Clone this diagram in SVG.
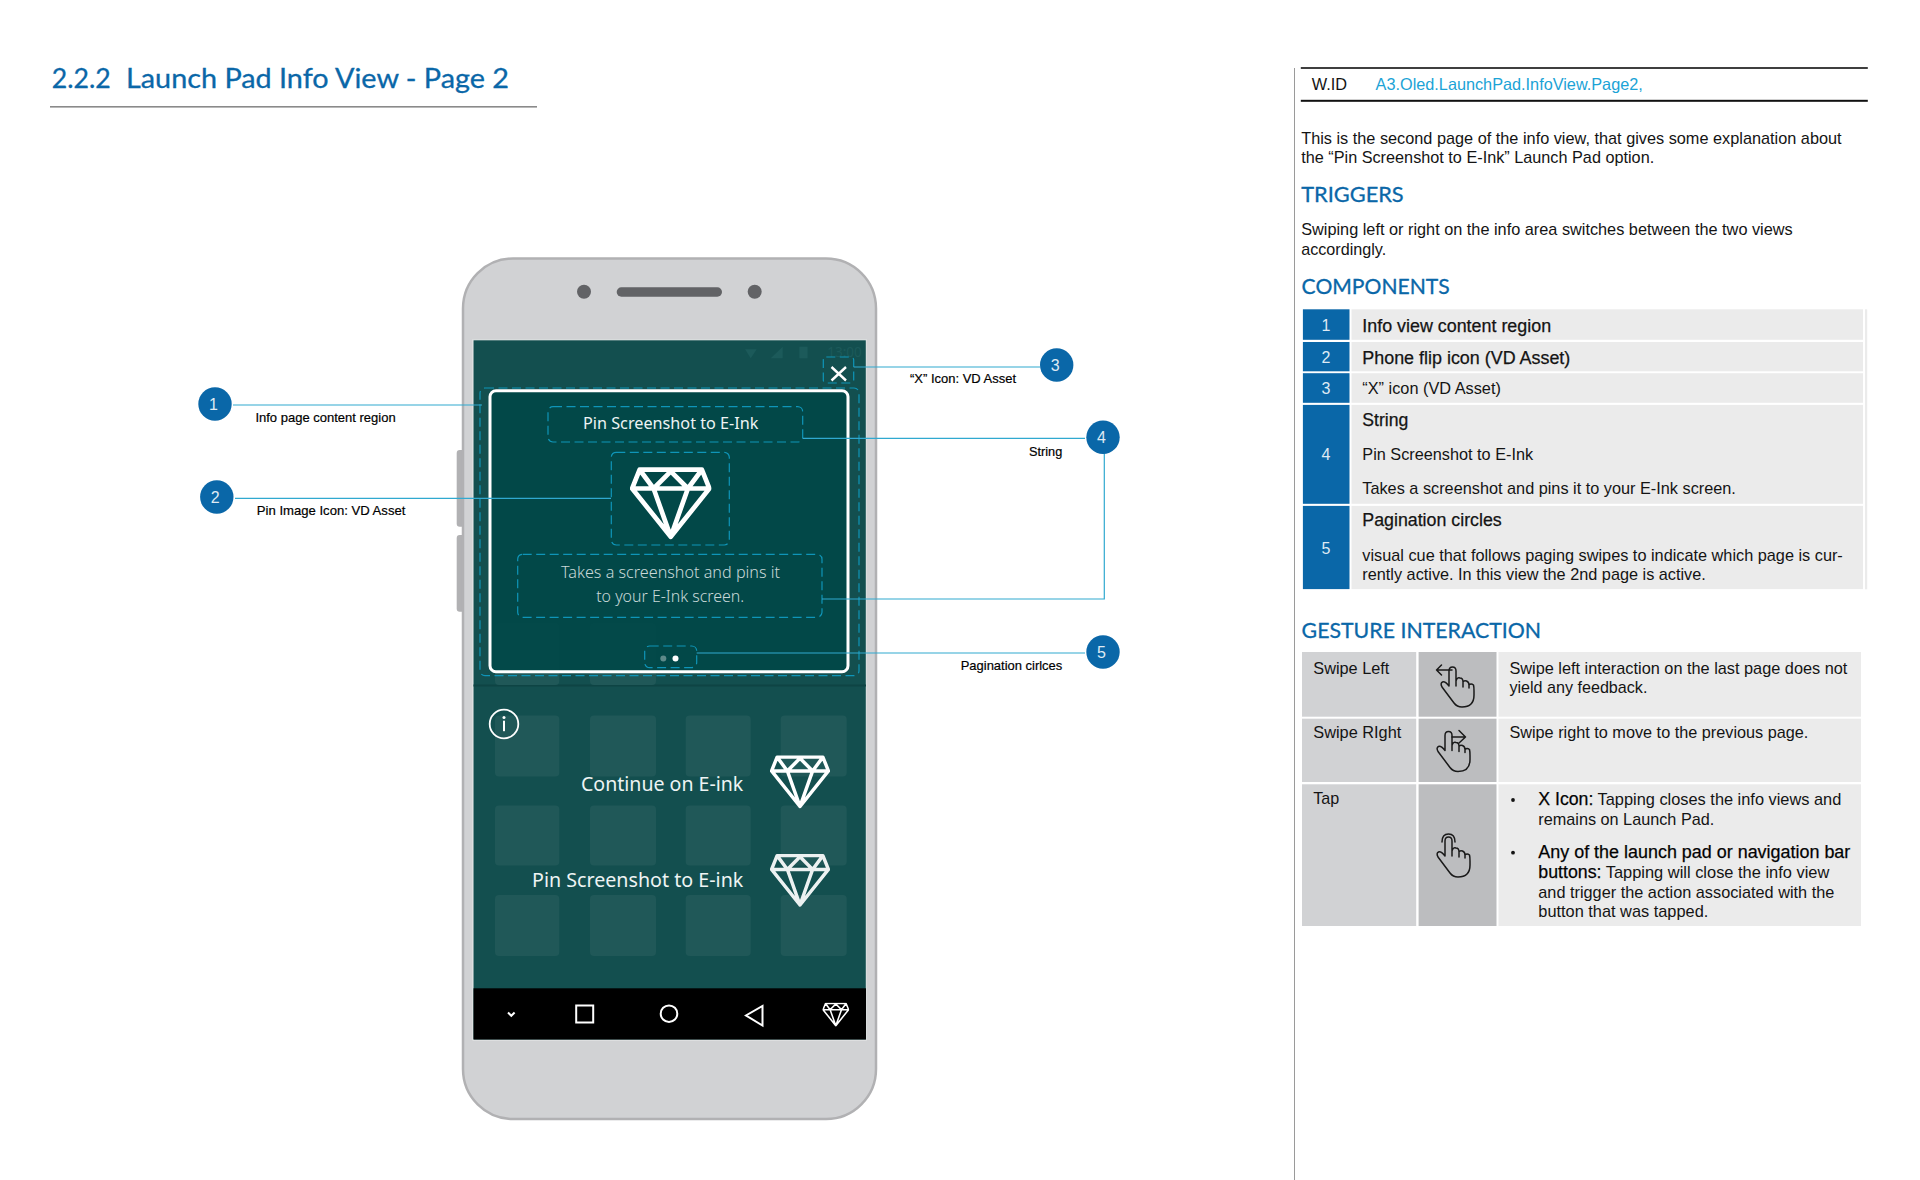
<svg xmlns="http://www.w3.org/2000/svg" xmlns:xlink="http://www.w3.org/1999/xlink" width="1920" height="1180" viewBox="0 0 1920 1180">
<style>
text{font-family:"Liberation Sans",Arial,sans-serif;fill:#141414}
.h{font-family:Lato,"Open Sans",sans-serif;fill:#0a67a8;stroke:#0a67a8;stroke-width:.3}
.p{font-size:16.2px}
.lg{font-size:17.5px;stroke:#141414;stroke-width:.25}
.lb{font-size:13.3px;fill:#000;stroke:#000;stroke-width:.2}
.n{font-size:16px;fill:#dfeaf4;text-anchor:middle}
.s{font-family:"Noto Sans","Open Sans",sans-serif;fill:#eef4f4}
.d{fill:none;stroke:#0f95b8;stroke-width:1.2;stroke-dasharray:9 4.5}
.c{fill:none;stroke:#30a9d0;stroke-width:1.2}
.num{fill:#0a67a8}
.cell{fill:#ebebeb}
.tile{fill:#205858}
.b{fill:#0a67a8}
.hand{fill:none;stroke:#1a1a1a;stroke-width:1.5;stroke-linecap:round;stroke-linejoin:round}
.nav{fill:none;stroke:#fff;stroke-width:2}
</style>
<defs>
<symbol id="gem" viewBox="2 1 76 68">
<path d="M11 3.5H69L76 21L40 66L4 21ZM4 21H76M11 3.5L24 21L40 5L56 21L69 3.5M24 21L40 66L56 21" fill="none" stroke="#fff" stroke-width="4.4" stroke-linejoin="round"/>
</symbol>
<symbol id="hand" viewBox="0 0 60 60">
<path class="hand" d="M21 29V14Q21 10 24.5 10Q28 10 28 14V29M28 24Q29 20 32 21Q35 21 35 25V30M35 25Q36 23 38.5 24Q41 25 41 28V31M41 28Q43 26 45.5 28Q46 30 46 34V38Q46 50 34 50Q29 50 26 46L14 30Q12 26 14.5 25Q17 24 21 29"/>
</symbol>
</defs>
<rect width="1920" height="1180" fill="#fff"/>

<g id="title">
<text class="h" x="51.8" y="88.3" font-size="27" textLength="59" lengthAdjust="spacingAndGlyphs">2.2.2</text>
<text class="h" x="126" y="88.3" font-size="27" textLength="383" lengthAdjust="spacingAndGlyphs">Launch Pad Info View - Page 2</text>
<rect x="50" y="106" width="487" height="1.6" fill="#8a8a8a"/>
</g>

<g id="phone">
<rect x="456.7" y="450" width="8" height="76.7" rx="3" fill="#b1b1b3"/>
<rect x="456.7" y="535" width="8" height="76.7" rx="3" fill="#b1b1b3"/>
<rect x="463" y="258.500" width="413" height="860.500" rx="50" fill="#d1d2d4" stroke="#b1b1b3" stroke-width="2.500"/>
<circle cx="584" cy="291.700" r="7" fill="#626366"/>
<circle cx="754.700" cy="291.700" r="7" fill="#626366"/>
<rect x="616.700" y="287.300" width="105.300" height="9.400" rx="4.700" fill="#626366"/>
<rect x="473" y="339.800" width="393.300" height="700.200" fill="#134f4f" stroke="#ececec" stroke-width="1"/>
<rect x="473.500" y="684.500" width="392.500" height="2" fill="#0e4444"/>
<path d="M745 349.300H756.700L750.700 358.300Z" fill="#1c5a5a"/>
<path d="M770.700 358.300L782.700 346.700V358.300Z" fill="#1c5a5a"/>
<rect x="799.300" y="346.700" width="8.300" height="11.600" fill="#1c5a5a"/>
<text x="827.300" y="356.700" font-size="15" textLength="34.400" lengthAdjust="spacingAndGlyphs" style="font-family:'Noto Sans',sans-serif;fill:#1c5a5a">13:00</text>
</g>

<g id="launch-grid">
<rect class="tile" x="495" y="623" width="64.300" height="62" rx="4"/><rect class="tile" x="590" y="623" width="66" height="62" rx="4"/>
<rect class="tile" x="495" y="715.500" width="64.300" height="61" rx="4"/><rect class="tile" x="590" y="715.500" width="66" height="61" rx="4"/><rect class="tile" x="685.700" y="715.500" width="65" height="61" rx="4"/><rect class="tile" x="780.700" y="715.500" width="66" height="61" rx="4"/>
<rect class="tile" x="495" y="805.500" width="64.300" height="60" rx="4"/><rect class="tile" x="590" y="805.500" width="66" height="60" rx="4"/><rect class="tile" x="685.700" y="805.500" width="65" height="60" rx="4"/><rect class="tile" x="780.700" y="805.500" width="66" height="60" rx="4"/>
<rect class="tile" x="495" y="895" width="64.300" height="61" rx="4"/><rect class="tile" x="590" y="895" width="66" height="61" rx="4"/><rect class="tile" x="685.700" y="895" width="65" height="61" rx="4"/><rect class="tile" x="780.700" y="895" width="66" height="61" rx="4"/>
</g>

<g id="launch-options">
<circle cx="504" cy="724" r="14.300" fill="none" stroke="#fff" stroke-width="1.800"/>
<circle cx="504" cy="717.500" r="1.500" fill="#fff"/>
<rect x="503" y="720.700" width="2" height="10.500" fill="#fff"/>
<text class="s" x="581" y="790.500" font-size="20" textLength="162.300" lengthAdjust="spacingAndGlyphs">Continue on E-ink</text>
<use xlink:href="#gem" href="#gem" x="770" y="755" width="60" height="54"/>
<text class="s" x="532" y="886.500" font-size="20" textLength="211.300" lengthAdjust="spacingAndGlyphs">Pin Screenshot to E-ink</text>
<use xlink:href="#gem" href="#gem" x="770" y="853.500" width="60" height="54" opacity=".92"/>
</g>

<g id="nav-bar">
<rect x="473.500" y="988.300" width="392.500" height="51.200" fill="#000"/>
<path d="M508 1012.500L511.300 1015.800L514.600 1012.500" class="nav"/>
<rect x="576.200" y="1005.500" width="17" height="17" class="nav"/>
<circle cx="669" cy="1013.700" r="8.300" class="nav"/>
<path d="M762.500 1006V1025.500L746 1015.500Z" class="nav"/>
<use xlink:href="#gem" href="#gem" x="822.300" y="1002.500" width="27" height="24.300"/>
</g>

<g id="info-card">
<rect x="490" y="390.700" width="358" height="281" rx="6" fill="#024848" fill-opacity=".97" stroke="#fff" stroke-width="3"/>
<text class="s" x="583" y="429.300" font-size="17" textLength="175.500" lengthAdjust="spacingAndGlyphs">Pin Screenshot to E-Ink</text>
<use xlink:href="#gem" href="#gem" x="630" y="467" width="81.500" height="73"/>
<text class="s" x="561" y="578" font-size="17" font-weight="300" textLength="219" lengthAdjust="spacingAndGlyphs" style="fill:#c8d8d8">Takes a screenshot and pins it</text>
<text class="s" x="596.200" y="601.700" font-size="17" font-weight="300" textLength="148" lengthAdjust="spacingAndGlyphs" style="fill:#c8d8d8">to your E-Ink screen.</text>
<circle cx="663.300" cy="658.500" r="3" fill="#5e8a8a"/>
<circle cx="675.500" cy="658.500" r="3" fill="#fff"/>
<path d="M831.500 367L846 380.500M846 367L831.500 380.500" stroke="#fff" stroke-width="2.400" fill="none"/>
</g>

<g id="callout-regions">
<rect class="d" x="480" y="388" width="379" height="287.700" rx="5"/>
<rect class="d" x="823.300" y="357" width="30.400" height="26" rx="3"/>
<rect class="d" x="548" y="406.700" width="254.700" height="35.300" rx="5"/>
<rect class="d" x="611.300" y="452.300" width="118" height="92.700" rx="5"/>
<rect class="d" x="517.700" y="554.300" width="304.300" height="63" rx="5"/>
<rect class="d" x="644.700" y="646" width="52" height="21.600" rx="5"/>
</g>

<g id="connectors">
<path class="c" d="M233 405H482"/>
<path class="c" d="M235 498.300H611"/>
<path class="c" d="M853.700 367H1040"/>
<path class="c" d="M802.700 438.300H1085"/>
<path class="c" d="M1104.300 453V599H822"/>
<path class="c" d="M696.700 653H1085"/>
</g>

<g id="callout-1"><circle class="b" cx="215" cy="404" r="16.700"/><text class="n" x="213.500" y="410">1</text><text class="lb" x="255.400" y="422" textLength="140.300" lengthAdjust="spacingAndGlyphs">Info page content region</text></g>
<g id="callout-2"><circle class="b" cx="216.800" cy="497" r="16.700"/><text class="n" x="215.300" y="503">2</text><text class="lb" x="256.800" y="515.300" textLength="148.600" lengthAdjust="spacingAndGlyphs">Pin Image Icon: VD Asset</text></g>
<g id="callout-3"><circle class="b" cx="1056.700" cy="365" r="16.700"/><text class="n" x="1055.200" y="371">3</text><text class="lb" x="910" y="383" textLength="106" lengthAdjust="spacingAndGlyphs">“X” Icon: VD Asset</text></g>
<g id="callout-4"><circle class="b" cx="1103" cy="437.300" r="16.700"/><text class="n" x="1101.500" y="443.300">4</text><text class="lb" x="1029" y="455.800" textLength="33.300" lengthAdjust="spacingAndGlyphs">String</text></g>
<g id="callout-5"><circle class="b" cx="1103" cy="652" r="16.700"/><text class="n" x="1101.500" y="658">5</text><text class="lb" x="960.700" y="670.300" textLength="101.600" lengthAdjust="spacingAndGlyphs">Pagination cirlces</text></g>

<g id="spec-panel">
<rect x="1294" y="68" width="1" height="1112" fill="#9a9a9a"/>
<rect x="1300.800" y="67.200" width="567" height="1.600" fill="#111"/>
<rect x="1300.800" y="99.800" width="567" height="2" fill="#111"/>
<text x="1311.700" y="90" font-size="16" textLength="35.300" lengthAdjust="spacingAndGlyphs">W.ID</text>
<text x="1375.600" y="90" font-size="16.500" textLength="267.200" lengthAdjust="spacingAndGlyphs" style="fill:#1ba3d6">A3.Oled.LaunchPad.InfoView.Page2,</text>
<text class="p" x="1301.200" y="143.900" textLength="540.400" lengthAdjust="spacingAndGlyphs">This is the second page of the info view, that gives some explanation about</text>
<text class="p" x="1301.200" y="163" textLength="353" lengthAdjust="spacingAndGlyphs">the “Pin Screenshot to E-Ink” Launch Pad option.</text>
<text class="h" x="1301.200" y="201.500" font-size="21" textLength="102.500" lengthAdjust="spacingAndGlyphs">TRIGGERS</text>
<text class="p" x="1301.200" y="235" textLength="491.500" lengthAdjust="spacingAndGlyphs">Swiping left or right on the info area switches between the two views</text>
<text class="p" x="1301.200" y="255.400" textLength="85" lengthAdjust="spacingAndGlyphs">accordingly.</text>
<text class="h" x="1301.600" y="293.800" font-size="21" textLength="148" lengthAdjust="spacingAndGlyphs">COMPONENTS</text>
</g>

<g id="components-table">
<rect x="1865" y="309.300" width="2.200" height="280" fill="#ebebeb"/>
<rect class="num" x="1302.900" y="309.300" width="46.600" height="30.500"/><rect class="cell" x="1351.500" y="309.300" width="511.500" height="30.500"/>
<rect class="num" x="1302.900" y="342" width="46.600" height="29.300"/><rect class="cell" x="1351.500" y="342" width="511.500" height="29.300"/>
<rect class="num" x="1302.900" y="373.200" width="46.600" height="29.600"/><rect class="cell" x="1351.500" y="373.200" width="511.500" height="29.600"/>
<rect class="num" x="1302.900" y="404.900" width="46.600" height="98.900"/><rect class="cell" x="1351.500" y="404.900" width="511.500" height="98.900"/>
<rect class="num" x="1302.900" y="505.900" width="46.600" height="83.200"/><rect class="cell" x="1351.500" y="505.900" width="511.500" height="83.200"/>
<text class="n" x="1326" y="330.700">1</text><text class="n" x="1326" y="362.900">2</text><text class="n" x="1326" y="394">3</text><text class="n" x="1326" y="459.900">4</text><text class="n" x="1326" y="553.900">5</text>
<text class="lg" x="1362.300" y="331.700" textLength="188.800" lengthAdjust="spacingAndGlyphs">Info view content region</text>
<text class="lg" x="1362.300" y="363.600" textLength="208" lengthAdjust="spacingAndGlyphs">Phone flip icon (VD Asset)</text>
<text class="p" x="1362.300" y="394.300" textLength="138.600" lengthAdjust="spacingAndGlyphs">“X” icon (VD Asset)</text>
<text class="lg" x="1362.300" y="425.500" textLength="46" lengthAdjust="spacingAndGlyphs">String</text>
<text class="p" x="1362.300" y="459.500" textLength="170.800" lengthAdjust="spacingAndGlyphs">Pin Screenshot to E-Ink</text>
<text class="p" x="1362.300" y="494" textLength="373.600" lengthAdjust="spacingAndGlyphs">Takes a screenshot and pins it to your E-Ink screen.</text>
<text class="lg" x="1362.300" y="526.200" textLength="139.400" lengthAdjust="spacingAndGlyphs">Pagination circles</text>
<text class="p" x="1362.300" y="560.700" textLength="480.500" lengthAdjust="spacingAndGlyphs">visual cue that follows paging swipes to indicate which page is cur-</text>
<text class="p" x="1362.300" y="580.400" textLength="343.500" lengthAdjust="spacingAndGlyphs">rently active. In this view the 2nd page is active.</text>
</g>

<g id="gesture-table">
<text class="h" x="1301.600" y="637.500" font-size="21" textLength="239.500" lengthAdjust="spacingAndGlyphs">GESTURE INTERACTION</text>
<rect x="1302" y="652" width="114.200" height="64.700" fill="#d1d2d4"/><rect x="1418.600" y="652" width="77.900" height="64.700" fill="#bcbdbf"/><rect class="cell" x="1498.500" y="652" width="362.500" height="64.700"/>
<rect x="1302" y="718.700" width="114.200" height="63.300" fill="#d1d2d4"/><rect x="1418.600" y="718.700" width="77.900" height="63.300" fill="#bcbdbf"/><rect class="cell" x="1498.500" y="718.700" width="362.500" height="63.300"/>
<rect x="1302" y="784.300" width="114.200" height="141.700" fill="#d1d2d4"/><rect x="1418.600" y="784.300" width="77.900" height="141.700" fill="#bcbdbf"/><rect class="cell" x="1498.500" y="784.300" width="362.500" height="141.700"/>
<text class="p" x="1313.300" y="673.500" textLength="76" lengthAdjust="spacingAndGlyphs">Swipe Left</text>
<text class="p" x="1313.300" y="738" textLength="88" lengthAdjust="spacingAndGlyphs">Swipe RIght</text>
<text class="p" x="1313.300" y="804" textLength="26" lengthAdjust="spacingAndGlyphs">Tap</text>
<use xlink:href="#hand" href="#hand" x="1428" y="657" width="60" height="60"/>
<path class="hand" d="M1436.500 670H1452M1441.500 665L1436.500 670L1441.500 675"/>
<use xlink:href="#hand" href="#hand" x="1424" y="721.500" width="60" height="60"/>
<path class="hand" d="M1452 737H1465.500M1459 730.500L1465.500 737L1459 743"/>
<use xlink:href="#hand" href="#hand" x="1424" y="827" width="60" height="60"/>
<path class="hand" d="M1442 842Q1442 834 1448.500 834Q1455 834 1455 842"/>
<text class="p" x="1509.400" y="673.500" textLength="338" lengthAdjust="spacingAndGlyphs">Swipe left interaction on the last page does not</text>
<text class="p" x="1509.400" y="693" textLength="138" lengthAdjust="spacingAndGlyphs">yield any feedback.</text>
<text class="p" x="1509.400" y="738" textLength="299" lengthAdjust="spacingAndGlyphs">Swipe right to move to the previous page.</text>
<circle cx="1513" cy="800" r="1.900" fill="#141414"/>
<circle cx="1513" cy="852.700" r="1.900" fill="#141414"/>
<text class="p" x="1538.300" y="805" textLength="303" lengthAdjust="spacingAndGlyphs"><tspan class="lg" style="fill:#000">X Icon:</tspan> Tapping closes the info views and</text>
<text class="p" x="1538.300" y="825" textLength="176" lengthAdjust="spacingAndGlyphs">remains on Launch Pad.</text>
<text class="lg" x="1538.300" y="858.300" textLength="312" lengthAdjust="spacingAndGlyphs" style="fill:#000">Any of the launch pad or navigation bar</text>
<text class="p" x="1538.300" y="878" textLength="291" lengthAdjust="spacingAndGlyphs"><tspan class="lg" style="fill:#000">buttons:</tspan> Tapping will close the info view</text>
<text class="p" x="1538.300" y="897.500" textLength="296" lengthAdjust="spacingAndGlyphs">and trigger the action associated with the</text>
<text class="p" x="1538.300" y="917" textLength="170" lengthAdjust="spacingAndGlyphs">button that was tapped.</text>
</g>
</svg>
